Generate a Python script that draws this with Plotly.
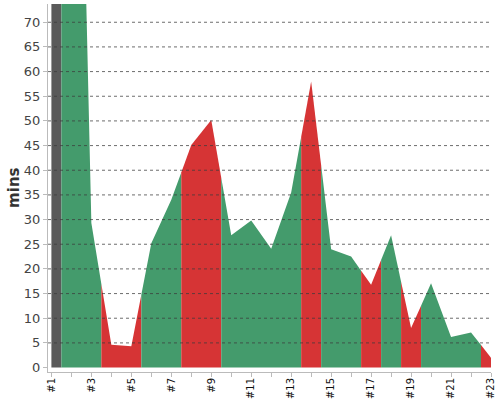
import numpy as np
import plotly.graph_objects as go

# race/lap data
labels = ["#%d" % i for i in range(1, 24)]
mins = [120, 205, 29.3, 4.6, 4.3, 25.2, 34, 45.1, 50.2, 26.8, 29.8, 24.1,
        35.5, 58.0, 24.0, 22.5, 16.8, 26.8, 8.0, 17.1, 6.2, 7.1, 2.0]
status = ["base", "ok", "ok", "bad", "bad", "ok", "ok", "bad", "bad", "ok", "ok", "ok",
          "ok", "bad", "ok", "ok", "bad", "ok", "bad", "ok", "ok", "ok", "bad"]
yticks = list(range(0, 75, 5))

colors = {"base": "#5a5a5a", "ok": "#449b6c", "bad": "#d63435"}

x = np.arange(len(mins))
y = np.array(mins, dtype=float)
n = len(x)

fig = go.Figure()

# group consecutive points of same status into one filled zone
i = 0
while i < n:
    j = i
    while j + 1 < n and status[j + 1] == status[i]:
        j += 1
    x0 = max(i - 0.5, 0)
    x1 = min(j + 0.5, n - 1)
    xs = [x0] + list(x[i:j + 1]) + [x1]
    ys = list(np.interp(xs, x, y))
    fig.add_trace(go.Scatter(x=xs, y=ys, mode="lines", fill="tozeroy",
                             fillcolor=colors[status[i]],
                             line=dict(width=0, color=colors[status[i]]),
                             hoverinfo="skip", showlegend=False))
    i = j + 1

for v in yticks[1:]:
    fig.add_hline(y=v, line=dict(color="rgba(60,60,60,0.75)", width=1, dash="3px,3px"),
                  layer="above")

fig.update_layout(
    width=500, height=400,
    margin=dict(l=48, r=9, t=4, b=28),
    plot_bgcolor="white", paper_bgcolor="white",
    font=dict(family="DejaVu Sans", color="#444"),
)
fig.add_annotation(text="<b>mins</b>", textangle=-90, showarrow=False,
                   xref="paper", yref="paper", x=-0.077, y=0.5,
                   xanchor="center", yanchor="middle",
                   font=dict(size=15, color="#333"))
fig.update_xaxes(range=[-0.17, n - 1], tickvals=list(x),
                 ticktext=[l if k % 2 == 0 else "" for k, l in enumerate(labels)],
                 tickangle=-90, tickfont=dict(size=10, color="#111"), automargin=False,
                 ticklabelstandoff=-3,
                 showgrid=False, zeroline=False, showline=True, linecolor="#bbb",
                 ticks="outside", ticklen=4, tickcolor="#bbb")
fig.update_yaxes(range=[-0.9, 73.7], tickvals=yticks, tickfont=dict(size=13, color="#444"),
                 automargin=False,
                 showgrid=False, zeroline=False, showline=True, linecolor="#bbb",
                 ticks="outside", ticklen=4, tickcolor="#bbb")

# page body has a default 8px margin, drop it so the chart sits at 0,0
fig.write_html("out.html", config={"displayModeBar": False},
               post_script="document.body.style.margin='0';")
